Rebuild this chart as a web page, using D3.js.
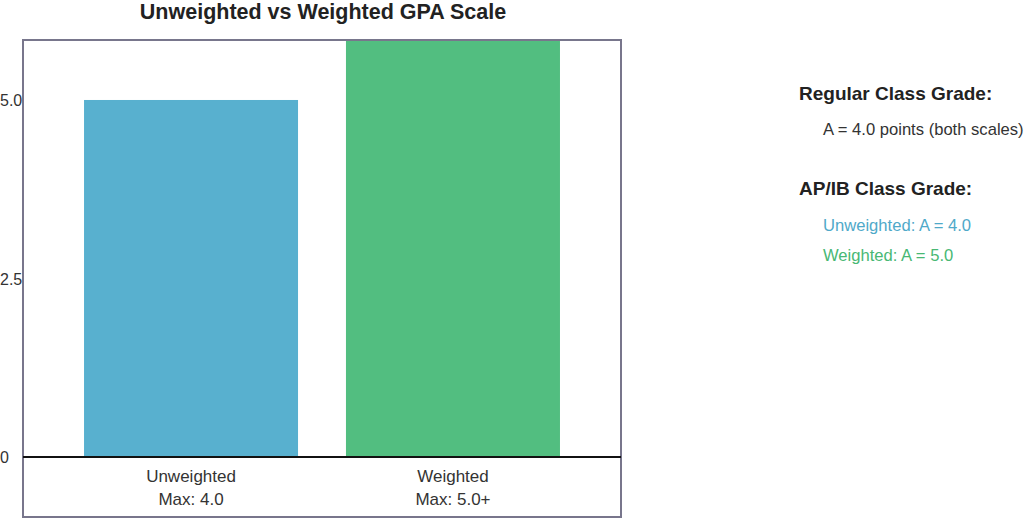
<!DOCTYPE html>
<html><head><meta charset="utf-8">
<script src="https://cdn.jsdelivr.net/npm/d3@7"></script>
<style>
html,body{margin:0;padding:0;background:#fff;}
svg{display:block;font-family:"Liberation Sans",Arial,Helvetica,sans-serif;}
</style></head>
<body><svg id="c" width="1024" height="519"></svg>
<script>
const categories = ["Unweighted", "Weighted"];
const maxLabels = ["Max: 4.0", "Max: 5.0+"];
const values = [5.0, 6.0];
const yTicks = [0, 2.5, 5.0];
const yTickLabels = ["0", "2.5", "5.0"];
const colors = ["#58b0cf", "#52be80"];
const notesRegular = ["A = 4.0 points (both scales)"];
const notesAP = ["Unweighted: A = 4.0", "Weighted: A = 5.0"];
const notesAPColors = ["#4fa9c9", "#48b874"];

const svg = d3.select("#c");
const frame = {l: 23, r: 621, t: 40, b: 517};
const baseY = 457;

const x = d3.scaleBand().domain(categories).range([frame.l, frame.r])
  .paddingInner(0.183).paddingOuter(0.233);
const y = d3.scaleLinear().domain([0, 5.84]).range([baseY, frame.t]);

svg.append("text").attr("x", 323).attr("y", 19).attr("text-anchor", "middle")
  .attr("font-size", 21.5).attr("font-weight", "bold").attr("fill", "#222")
  .text("Unweighted vs Weighted GPA Scale");

svg.append("defs").append("clipPath").attr("id", "clip")
  .append("rect").attr("x", frame.l).attr("y", frame.t)
  .attr("width", frame.r - frame.l).attr("height", baseY - frame.t);

svg.append("g").attr("clip-path", "url(#clip)")
  .selectAll("rect").data(categories).join("rect")
  .attr("x", d => x(d)).attr("width", x.bandwidth())
  .attr("y", (d, i) => y(values[i])).attr("height", (d, i) => baseY - y(values[i]))
  .attr("fill", (d, i) => colors[i]);

// frame
svg.append("rect").attr("x", frame.l).attr("y", frame.t)
  .attr("width", frame.r - frame.l).attr("height", frame.b - frame.t)
  .attr("fill", "none").attr("stroke", "#78768c").attr("stroke-width", 2);

// baseline
svg.append("line").attr("x1", frame.l).attr("x2", frame.r)
  .attr("y1", baseY).attr("y2", baseY).attr("stroke", "#111").attr("stroke-width", 2);

// y axis labels (left-aligned at the page edge)
const yAxis = d3.axisLeft(y).tickValues(yTicks).tickSize(0).tickPadding(0)
  .tickFormat((d, i) => yTickLabels[i]);
const ga = svg.append("g").attr("transform", `translate(${frame.l},0)`).call(yAxis);
ga.select(".domain").remove();
ga.attr("font-size", 16);
ga.selectAll("text").attr("font-size", 16).attr("fill", "#333")
  .attr("text-anchor", "start").attr("x", -frame.l).attr("dy", "0.36em")
  .attr("font-family", "'Liberation Sans',Arial,sans-serif");

// category labels
const cl = svg.append("g").selectAll("g").data(categories).join("g")
  .attr("transform", d => `translate(${x(d) + x.bandwidth() / 2},0)`);
cl.append("text").attr("y", 482).attr("text-anchor", "middle")
  .attr("font-size", 17).attr("fill", "#333").text(d => d);
cl.append("text").attr("y", 505).attr("text-anchor", "middle")
  .attr("font-size", 17).attr("fill", "#333").text((d, i) => maxLabels[i]);

// notes
svg.append("text").attr("x", 799).attr("y", 100).attr("font-size", 19)
  .attr("font-weight", "bold").attr("fill", "#222").text("Regular Class Grade:");
svg.selectAll(".nr").data(notesRegular).join("text").attr("class", "nr")
  .attr("x", 823).attr("y", (d, i) => 135 + i * 30).attr("font-size", 16.6)
  .attr("fill", "#333").text(d => d);
svg.append("text").attr("x", 799).attr("y", 195).attr("font-size", 19)
  .attr("font-weight", "bold").attr("fill", "#222").text("AP/IB Class Grade:");
svg.selectAll(".na").data(notesAP).join("text").attr("class", "na")
  .attr("x", 823).attr("y", (d, i) => 231 + i * 30).attr("font-size", 16.6)
  .attr("fill", (d, i) => notesAPColors[i]).text(d => d);
</script></body></html>
